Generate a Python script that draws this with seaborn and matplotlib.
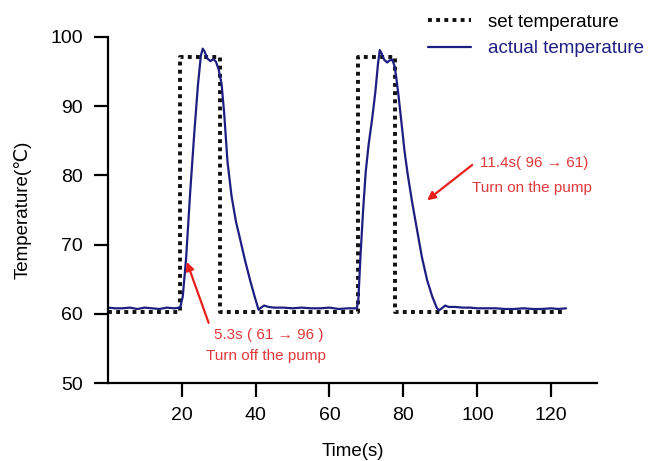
import matplotlib
matplotlib.use("Agg")
import matplotlib.pyplot as plt
import seaborn as sns
import pandas as pd

# set temperature (step profile, vertical edges given as repeated times)
set_time = [0, 19.6, 19.6, 30.4, 30.4, 67.6, 67.6, 77.6, 77.6, 124]
set_temp = [60.3, 60.3, 97.1, 97.1, 60.3, 60.3, 97.1, 97.1, 60.3, 60.3]

# actual temperature
act_time = [0, 2, 4, 6, 8, 10, 12, 14, 16, 18, 19.6,
            20.3, 21.2, 22.3, 23.4, 24.4, 25.2, 25.7, 26.2, 26.9, 27.8, 28.6, 29.3,
            30.0, 30.8, 31.5, 32.4, 33.5, 34.7, 35.9, 37.2, 38.6, 39.8, 40.8,
            41.5, 42.3, 43.5, 45, 47.5, 50, 52.5, 55, 57.5, 60, 62.5, 65, 67.4,
            67.8, 68.4, 69.1, 69.8, 70.6, 71.5, 72.4, 73.1, 73.6, 74.1, 74.8, 75.6,
            76.3, 77.0, 77.6, 78.1, 78.7, 79.5, 80.3, 81.2, 82.4, 83.7, 85.0, 86.4,
            87.8, 89.0, 89.6, 90.4, 91.3, 92.2, 94, 96, 98, 100, 102.5, 105, 107.5,
            110, 112.5, 115, 117.5, 120, 122, 124]
act_temp = [60.9, 60.8, 60.8, 60.9, 60.7, 60.9, 60.8, 60.7, 60.9, 60.8, 60.9,
            62.5, 68.0, 77.5, 86.0, 93.0, 97.3, 98.3, 97.9, 96.9, 96.5, 96.8, 96.4,
            95.3, 93.2, 89.0, 82.0, 77.0, 73.3, 70.6, 67.6, 64.7, 62.4, 60.6,
            60.9, 61.2, 61.0, 60.9, 60.9, 60.8, 60.9, 60.8, 60.8, 60.9, 60.7, 60.8, 60.8,
            62.0, 68.5, 75.0, 80.5, 84.5, 88.0, 92.0, 96.0, 98.1, 97.6, 96.7, 96.3,
            96.6, 96.7, 95.8, 94.0, 91.4, 87.5, 83.5, 80.0, 76.0, 72.1, 68.2, 64.9,
            62.5, 60.9, 60.5, 60.8, 61.2, 61.0, 61.0, 60.9, 60.9, 60.8, 60.8, 60.8, 60.7,
            60.7, 60.8, 60.7, 60.7, 60.8, 60.7, 60.8]

df_set = pd.DataFrame({"t": set_time, "T": set_temp})
df_act = pd.DataFrame({"t": act_time, "T": act_temp})

sns.set_style("ticks")
plt.rcParams["font.family"] = ["Liberation Sans", "DejaVu Sans", "Noto Sans CJK SC"]

navy = "#1e1e82"
red_arrow = "#e8201c"
red_text = "#e0383b"

fig = plt.figure(figsize=(6.49, 4.61), dpi=100)
ax = fig.add_axes([0.166, 0.169, 0.754, 0.751])

sns.lineplot(data=df_set, x="t", y="T", ax=ax, sort=False, estimator=None,
             color="#111111", lw=2.8, linestyle=(0, (1.0, 1.1)),
             label="set temperature")
sns.lineplot(data=df_act, x="t", y="T", ax=ax, sort=False, estimator=None,
             color=navy, lw=1.6, label="actual temperature")

ax.set_xlim(0, 132.4)
ax.set_ylim(50, 100)
ax.set_xticks([20, 40, 60, 80, 100, 120])
ax.set_yticks([50, 60, 70, 80, 90, 100])
sns.despine(ax=ax)
for s in ["left", "bottom"]:
    ax.spines[s].set_linewidth(1.6)
    ax.spines[s].set_color("black")
ax.tick_params(axis="both", length=10, width=1.6, labelsize=14,
               color="black", labelcolor="black")
ax.tick_params(axis="y", pad=8)
ax.tick_params(axis="x", pad=7)

ax.set_xlabel("Time(s)", fontsize=13.5, labelpad=14, color="black")
ax.set_ylabel("Temperature(℃)", fontsize=13.5, labelpad=13, color="black")

leg = ax.legend(loc="upper right", bbox_to_anchor=(0.992, 0.97),
                bbox_transform=fig.transFigure, frameon=False, fontsize=13.5,
                handlelength=2.3, handletextpad=0.9, labelspacing=0.5,
                borderpad=0, borderaxespad=0)
leg.get_texts()[0].set_color("black")
leg.get_texts()[1].set_color(navy)

ax.annotate("", xy=(21.4, 67.5), xytext=(27.3, 58.7),
            arrowprops=dict(arrowstyle="-|>", color=red_arrow, lw=1.6,
                            mutation_scale=12, shrinkA=0, shrinkB=0))
ax.text(43.5, 57.0, "5.3s ( 61 → 96 )", color=red_text, fontsize=11,
        ha="center", va="center")
ax.text(42.7, 53.9, "Turn off the pump", color=red_text, fontsize=11,
        ha="center", va="center")

ax.annotate("", xy=(86.4, 76.4), xytext=(98.6, 81.5),
            arrowprops=dict(arrowstyle="-|>", color=red_arrow, lw=1.6,
                            mutation_scale=12, shrinkA=0, shrinkB=0))
ax.text(115.4, 81.8, "11.4s( 96 → 61)", color=red_text, fontsize=11,
        ha="center", va="center")
ax.text(114.8, 78.2, "Turn on the pump", color=red_text, fontsize=11,
        ha="center", va="center")

fig.savefig("out.png", dpi=100)
